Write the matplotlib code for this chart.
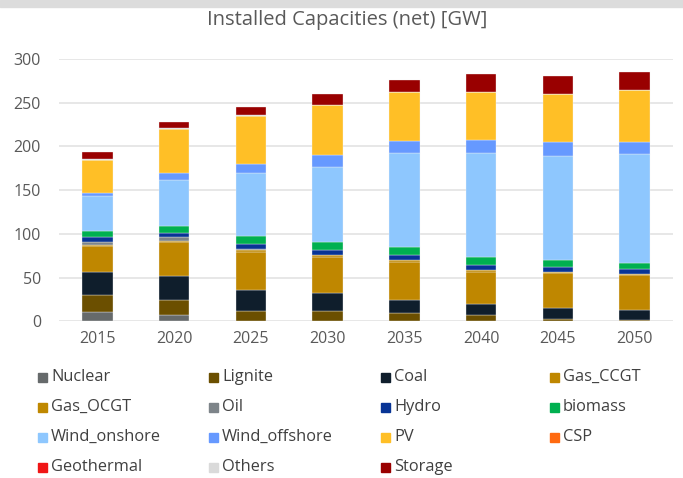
import numpy as np
import matplotlib
matplotlib.use("Agg")
import matplotlib.pyplot as plt
from matplotlib.patches import Rectangle

plt.rcParams['font.family'] = ['Open Sans', 'DejaVu Sans']

years = ['2015', '2020', '2025', '2030', '2035', '2040', '2045', '2050']

nuclear = [10.7, 7.2, 0, 0, 0, 0, 0, 0]
lignite = [19.5, 16.9, 11.8, 11.8, 9.2, 7.6, 3.1, 1.9]
coal = [26.0, 27.9, 24.5, 20.7, 15.2, 12.7, 12.2, 11.5]
gas_ccgt = [29.5, 38.4, 43.0, 40.8, 43.2, 36.5, 39.5, 39.0]
gas_ocgt = [1.5, 2.0, 2.0, 2.0, 2.0, 1.7, 1.7, 1.5]
oil = [3.7, 3.9, 1.9, 0.7, 0.5, 0.3, 0.3, 0.3]
hydro = [5.8, 5.0, 5.0, 5.8, 5.2, 5.8, 5.5, 5.4]
biomass = [6.5, 8.0, 9.5, 8.8, 9.9, 8.4, 7.7, 7.3]
wind_onshore = [39.7, 52.7, 71.5, 85.7, 107.1, 119.2, 119.6, 124.6]
wind_offshore = [3.4, 8.0, 10.7, 13.7, 14.1, 14.6, 14.9, 14.1]
pv = [37.9, 50.0, 55.4, 57.3, 55.9, 55.5, 55.5, 59.0]
csp = [0, 0, 0, 0, 0, 0, 0, 0]
geothermal = [0, 0, 0, 0, 0, 0, 0, 0]
others = [1.5, 0.8, 0.5, 0.5, 0.5, 0.5, 0.5, 0.5]
storage = [7.7, 7.7, 8.8, 12.2, 12.8, 20.2, 19.5, 20.1]

series = [
    ("Nuclear", nuclear, "#666a6b"),
    ("Lignite", lignite, "#6b4f00"),
    ("Coal", coal, "#0f1e2c"),
    ("Gas_CCGT", gas_ccgt, "#bf8700"),
    ("Gas_OCGT", gas_ocgt, "#bf8800"),
    ("Oil", oil, "#7d8489"),
    ("Hydro", hydro, "#083495"),
    ("biomass", biomass, "#00b050"),
    ("Wind_onshore", wind_onshore, "#8ec7fe"),
    ("Wind_offshore", wind_offshore, "#6699ff"),
    ("PV", pv, "#ffbf26"),
    ("CSP", csp, "#ff6a10"),
    ("Geothermal", geothermal, "#f01515"),
    ("Others", others, "#dadada"),
    ("Storage", storage, "#990000"),
]

W, H = 683, 478
fig = plt.figure(figsize=(W / 100, H / 100), dpi=100)

# grey strip on top
fig.patches.append(Rectangle((0, 1 - 7 / H), 1, 7 / H, transform=fig.transFigure,
                             color="#dcdcdc", zorder=0))

ax = fig.add_axes([59 / W, 1 - 321.3 / H, (673 - 59) / W, (321.3 - 59) / H])

x = np.arange(len(years))
bottom = np.zeros(len(years))
for name, vals, col in series:
    vals = np.array(vals, dtype=float)
    ax.bar(x, vals, 0.4, bottom=bottom, color=col, edgecolor="#f4f4f4",
           linewidth=0.25, zorder=3)
    bottom += vals

ax.set_xlim(-0.5, len(years) - 0.5)
ax.set_ylim(0, 300)
ax.set_yticks([0, 50, 100, 150, 200, 250, 300])
ax.set_xticks(x)
ax.set_xticklabels(years)
ax.grid(axis="y", color="#e3e3e3", linewidth=1.2, zorder=0)
for s in ax.spines.values():
    s.set_visible(False)
ax.tick_params(axis="both", length=0, labelsize=11.5, colors="#595959")
ax.tick_params(axis="y", pad=13)
ax.tick_params(axis="x", pad=7)

fig.text(347 / W, 1 - 20 / H, "Installed Capacities (net) [GW]", ha="center",
         va="center", fontsize=14.5, color="#595959")

# legend, 4 per row
col_x = [38, 209, 381, 550]
row_y = [377, 407, 437, 467]
sq = 9
for i, (name, vals, col) in enumerate(series):
    cx = col_x[i % 4]
    cy = row_y[i // 4]
    fig.patches.append(Rectangle((cx / W, 1 - (cy + sq / 2) / H), sq / W, sq / H,
                                 transform=fig.transFigure, color=col))
    fig.text((cx + sq + 4) / W, 1 - cy / H, name, ha="left", va="center",
             fontsize=11.8, color="#404040")

plt.savefig("out.png", dpi=100)
